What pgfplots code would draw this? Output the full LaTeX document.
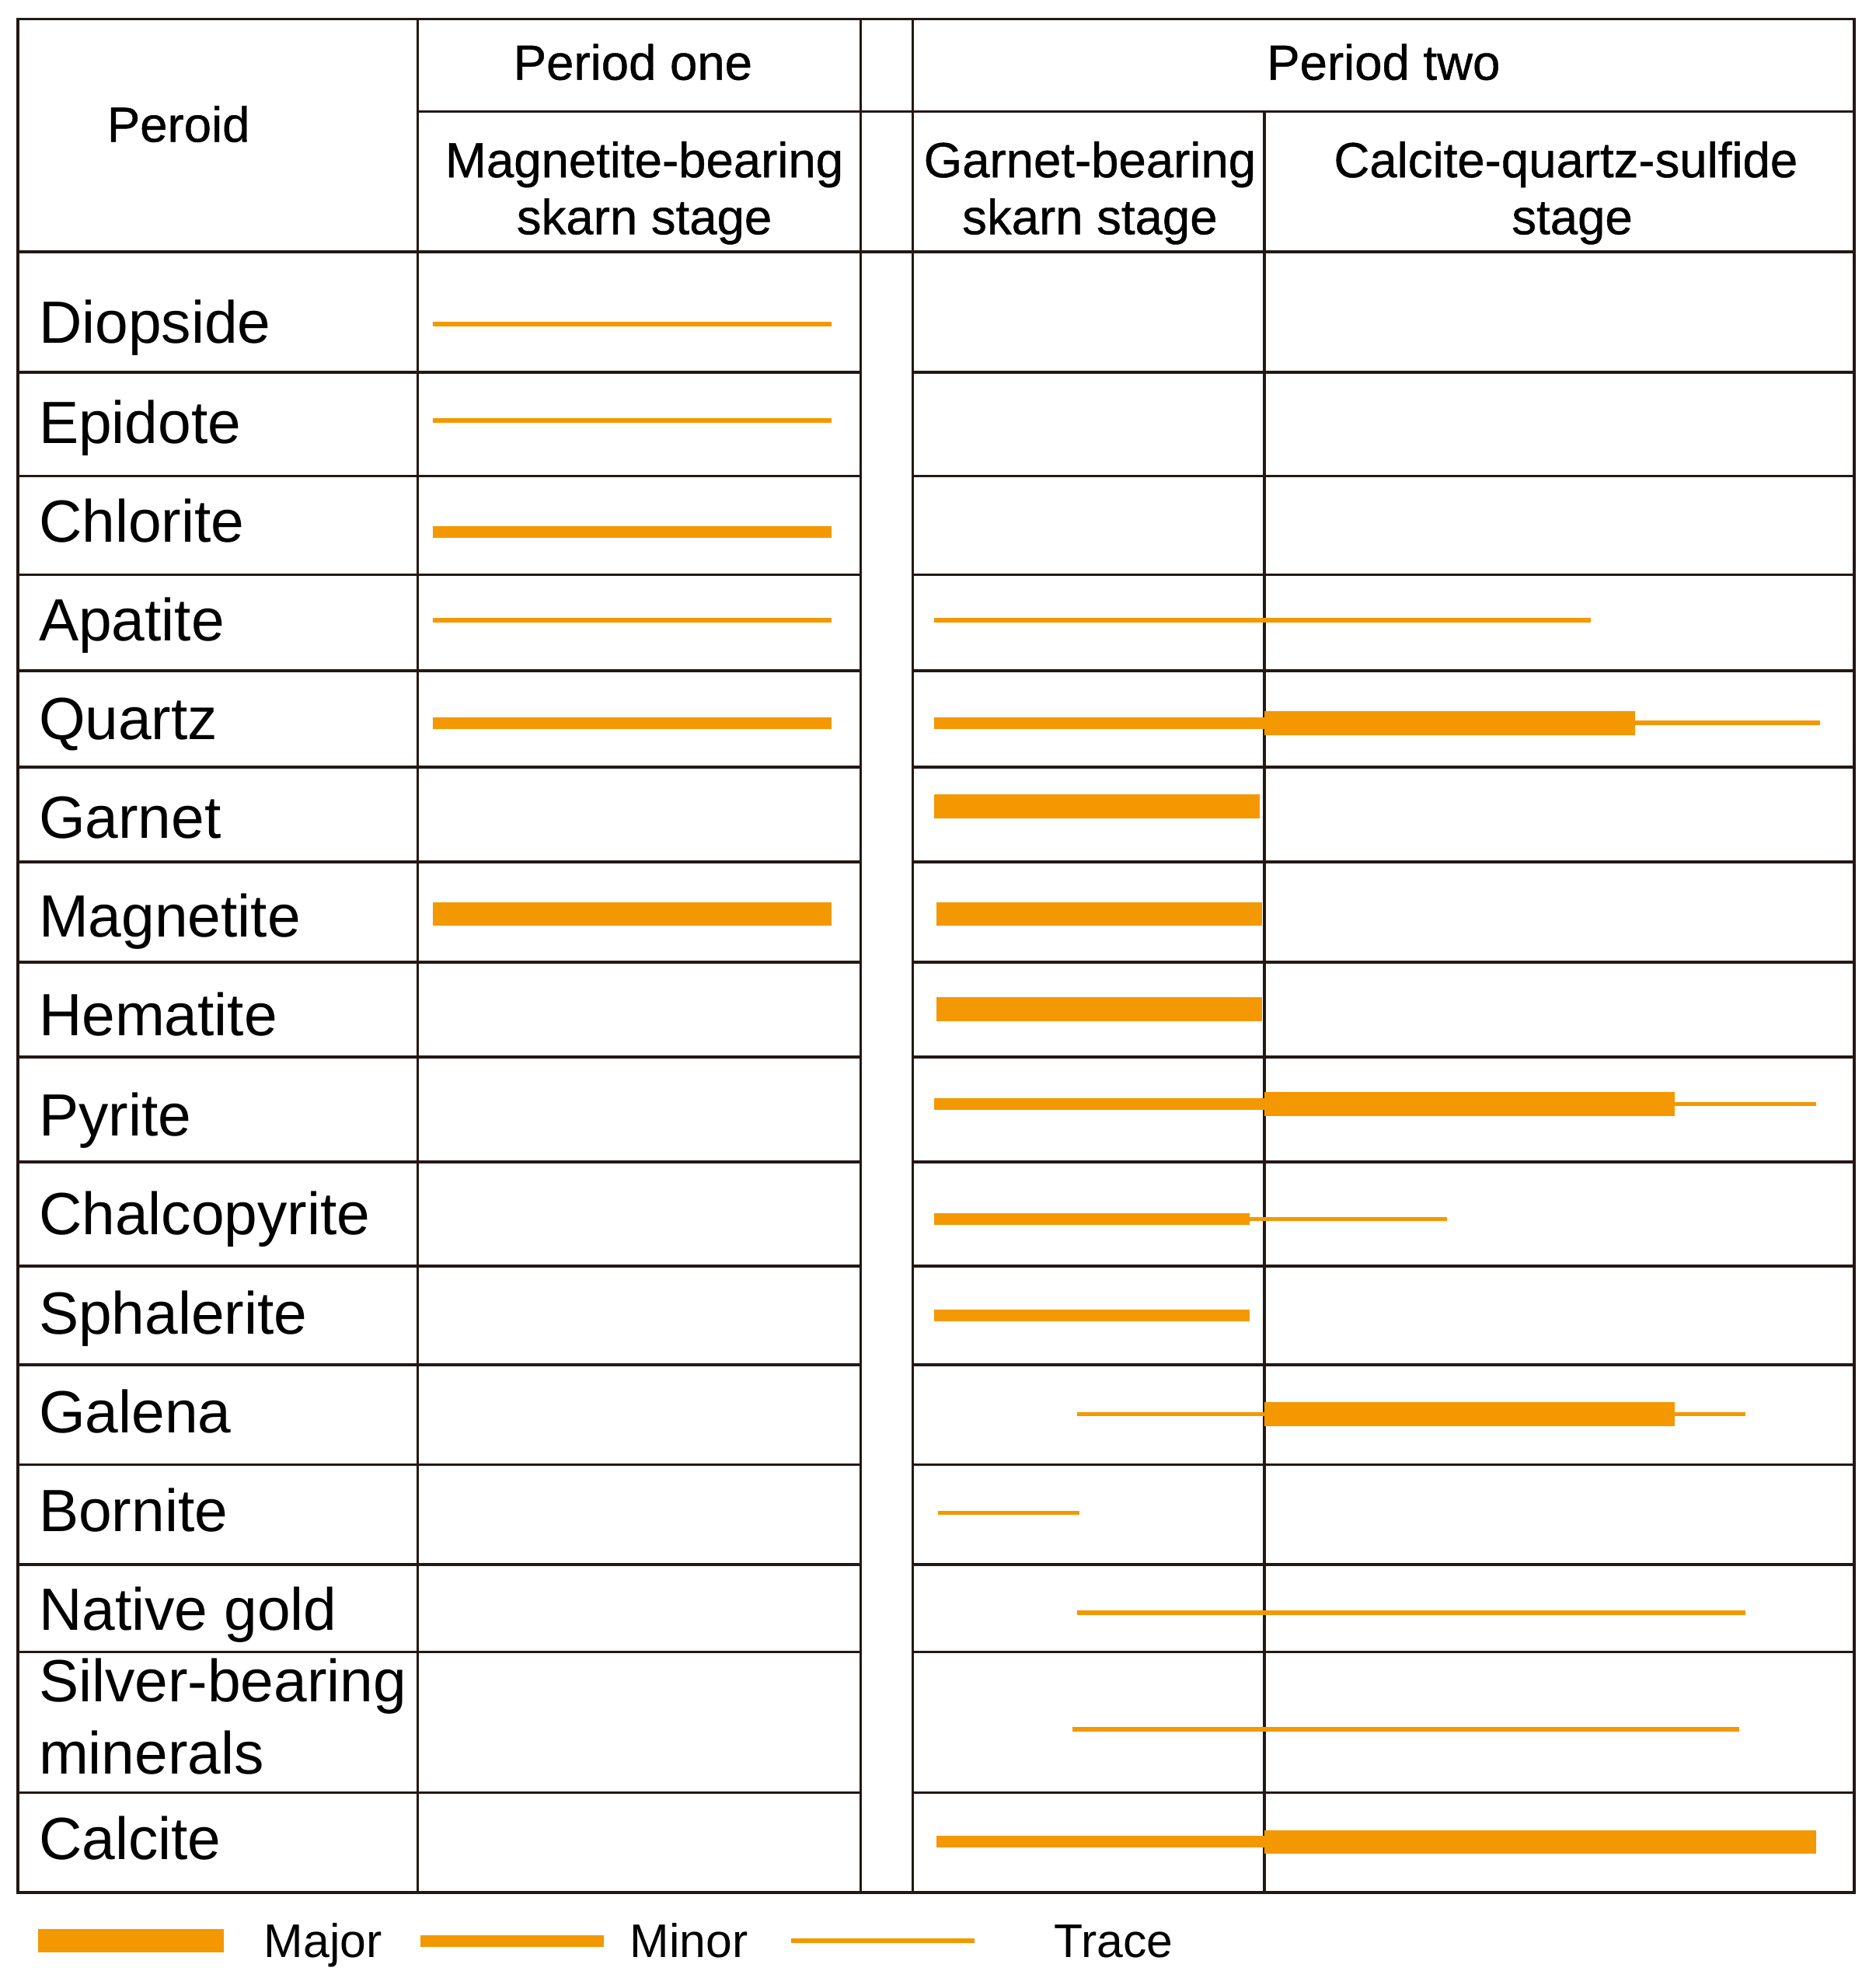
\documentclass[border=0pt]{standalone}
\usepackage{fontspec}
\setmainfont{Liberation Sans}
\newfontfamily\headfont{Liberation Sans}[FakeBold=0.7]
\usepackage{pgfplots}
\pgfplotsset{compat=1.18}
\definecolor{ore}{HTML}{F39800}
\definecolor{rulecol}{HTML}{231815}
\tikzset{
  major/.style={ore,line width=1.9mm,line cap=butt},
  minor/.style={ore,line width=0.92mm,line cap=butt},
  trace/.style={ore,line width=0.35mm,line cap=butt},
  grid/.style={rulecol,line width=0.22mm},
  lab/.style={anchor=base west,inner sep=0pt,font=\fontsize{13.4pt}{16pt}\selectfont},
  head/.style={anchor=base,inner sep=0pt,font=\headfont\fontsize{11.1pt}{13pt}\selectfont},
  leg/.style={anchor=base west,inner sep=0pt,font=\fontsize{10.6pt}{13pt}\selectfont},
}
\begin{document}
\begin{tikzpicture}
\begin{axis}[
  scale only axis,
  width=148.2mm,
  height=156.8mm,
  xmin=0,xmax=1482,
  ymin=0,ymax=1568,
  y dir=reverse,
  hide axis,
  clip=false
]
\path (axis cs:0,0) rectangle (axis cs:1482,1568);

% table frame
\draw[grid] (axis cs:14,15) rectangle (axis cs:1465,1495);
\draw[grid] (axis cs:330,15) -- (axis cs:330,1495);
\draw[grid] (axis cs:680,15) -- (axis cs:680,1495);
\draw[grid] (axis cs:721,15) -- (axis cs:721,1495);
\draw[grid] (axis cs:999,88) -- (axis cs:999,1495);
\draw[grid] (axis cs:330,88) -- (axis cs:1465,88);
\draw[grid] (axis cs:14,199) -- (axis cs:1465,199);
\pgfplotsinvokeforeach{294,376,454,530,606,681,760,835,918,1000,1078,1157,1236,1305,1416}{
  \draw[grid] (axis cs:14,#1) -- (axis cs:680,#1);
  \draw[grid] (axis cs:721,#1) -- (axis cs:1465,#1);
}

% header
\node[head] at (axis cs:141,112) {Peroid};
\node[head] at (axis cs:500,63) {Period one};
\node[head] at (axis cs:1093,63) {Period two};
\node[head] at (axis cs:509,140) {Magnetite-bearing};
\node[head] at (axis cs:509,185) {skarn stage};
\node[head] at (axis cs:861,140) {Garnet-bearing};
\node[head] at (axis cs:861,185) {skarn stage};
\node[head] at (axis cs:1237,140) {Calcite-quartz-sulfide};
\node[head] at (axis cs:1242,185) {stage};

% mineral names
\node[lab] at (axis cs:30,271) {Diopside};
\node[lab] at (axis cs:30,350) {Epidote};
\node[lab] at (axis cs:30,428) {Chlorite};
\node[lab] at (axis cs:30,506) {Apatite};
\node[lab] at (axis cs:30,584) {Quartz};
\node[lab] at (axis cs:30,662) {Garnet};
\node[lab] at (axis cs:30,740) {Magnetite};
\node[lab] at (axis cs:30,818) {Hematite};
\node[lab] at (axis cs:30,897) {Pyrite};
\node[lab] at (axis cs:30,975) {Chalcopyrite};
\node[lab] at (axis cs:30,1054) {Sphalerite};
\node[lab] at (axis cs:30,1132) {Galena};
\node[lab] at (axis cs:30,1210) {Bornite};
\node[lab] at (axis cs:30,1288) {Native gold};
\node[lab] at (axis cs:30,1344) {Silver-bearing};
\node[lab] at (axis cs:30,1401) {minerals};
\node[lab] at (axis cs:30,1469) {Calcite};

% Diopside
\addplot[trace] coordinates {(342,256) (657,256)};
% Epidote
\addplot[trace] coordinates {(342,332) (657,332)};
% Chlorite
\addplot[minor] coordinates {(342,420) (657,420)};
% Apatite
\addplot[trace] coordinates {(342,490) (657,490)};
\addplot[trace] coordinates {(738,490) (1257,490)};
% Quartz
\addplot[minor] coordinates {(342,571) (657,571)};
\addplot[minor] coordinates {(738,571) (999,571)};
\addplot[major] coordinates {(999,571) (1292,571)};
\addplot[trace] coordinates {(1292,571) (1438,571)};
% Garnet
\addplot[major] coordinates {(738,637) (995,637)};
% Magnetite
\addplot[major] coordinates {(342,722) (657,722)};
\addplot[major] coordinates {(740,722) (997,722)};
% Hematite
\addplot[major] coordinates {(740,797) (997,797)};
% Pyrite
\addplot[minor] coordinates {(738,872) (999,872)};
\addplot[major] coordinates {(999,872) (1323,872)};
\addplot[trace] coordinates {(1323,872) (1435,872)};
% Chalcopyrite
\addplot[minor] coordinates {(738,963) (987,963)};
\addplot[trace] coordinates {(987,963) (1143,963)};
% Sphalerite
\addplot[minor] coordinates {(738,1039) (987,1039)};
% Galena
\addplot[trace] coordinates {(851,1117) (999,1117)};
\addplot[major] coordinates {(999,1117) (1323,1117)};
\addplot[trace] coordinates {(1323,1117) (1379,1117)};
% Bornite
\addplot[trace] coordinates {(741,1195) (853,1195)};
% Native gold
\addplot[trace] coordinates {(851,1274) (1379,1274)};
% Silver-bearing minerals
\addplot[trace] coordinates {(847,1366) (1374,1366)};
% Calcite
\addplot[minor] coordinates {(740,1455) (999,1455)};
\addplot[major] coordinates {(999,1455) (1435,1455)};

% legend
\addplot[major] coordinates {(30,1533) (177,1533)};
\node[leg] at (axis cs:208,1546) {Major};
\addplot[minor] coordinates {(332,1533) (477,1533)};
\node[leg] at (axis cs:497,1546) {Minor};
\addplot[trace] coordinates {(625,1533) (770,1533)};
\node[leg] at (axis cs:832,1546) {Trace};
\end{axis}
\end{tikzpicture}
\end{document}
